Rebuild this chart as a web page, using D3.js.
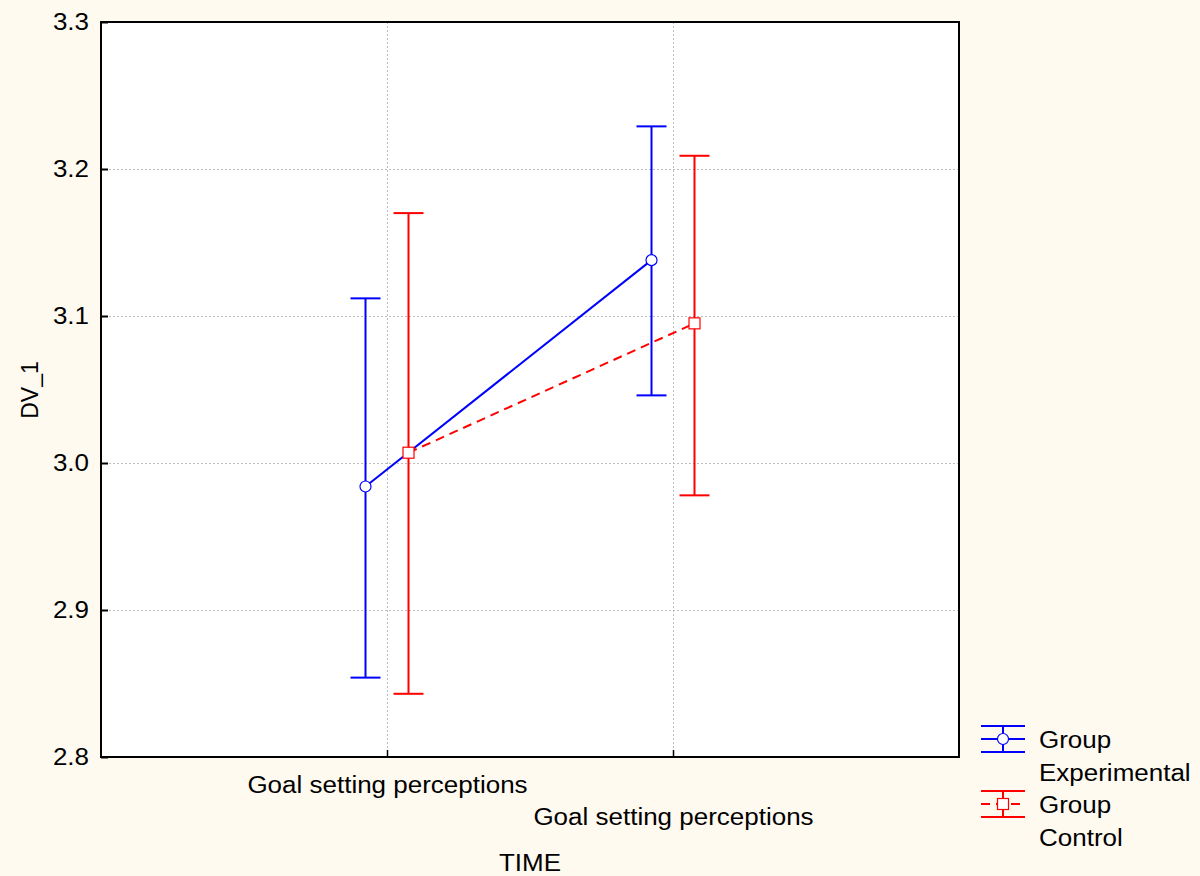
<!DOCTYPE html>
<html>
<head>
<meta charset="utf-8">
<script src="https://cdn.jsdelivr.net/npm/d3@7"></script>
<style>
  html, body { margin: 0; padding: 0; background: #FFFAF0; }
  svg { display: block; }
  text { font-family: "Liberation Sans", Arial, sans-serif; fill: #000; transform-box: fill-box; }
  text.a-start { transform: scaleX(1.13); transform-origin: left center; }
  text.a-middle { transform: scaleX(1.13); transform-origin: center center; }
  text.a-end { transform: scaleX(1.13); transform-origin: right center; }
</style>
</head>
<body>
<svg id="chart" width="1200" height="876"></svg>
<script>
// Time points on the x axis
const timeLabels = ["Goal setting perceptions", "Goal setting perceptions"];
const yTicks = [2.8, 2.9, 3.0, 3.1, 3.2, 3.3];

// Group means with the lower and upper ends of their error bars
const expMean = [2.984, 3.138];
const expLow  = [2.854, 3.046];
const expHigh = [3.112, 3.229];

const ctlMean = [3.007, 3.095];
const ctlLow  = [2.843, 2.978];
const ctlHigh = [3.170, 3.209];

const groups = [
  { name: "Group", sub: "Experimental", mean: expMean, low: expLow, high: expHigh,
    color: "#0000FF", dash: null, marker: "circle", offset: -21.5 },
  { name: "Group", sub: "Control", mean: ctlMean, low: ctlLow, high: ctlHigh,
    color: "#FF0000", dash: "9,6", marker: "square", offset: 21.5 }
];

const svg = d3.select("#chart");
const W = 1200, H = 876;
const plot = { left: 101, right: 959, top: 22, bottom: 757 };

svg.append("rect").attr("width", W).attr("height", H).attr("fill", "#FFFAF0");
svg.append("rect")
  .attr("x", plot.left).attr("y", plot.top)
  .attr("width", plot.right - plot.left).attr("height", plot.bottom - plot.top)
  .attr("fill", "#FFFFFF");

const x = d3.scalePoint()
  .domain(d3.range(timeLabels.length))
  .range([plot.left, plot.right])
  .padding(1);

const y = d3.scaleLinear().domain([2.8, 3.3]).range([plot.bottom, plot.top]);

// Dotted grid
const grid = svg.append("g").attr("stroke", "#BDBDBD").attr("stroke-width", 1)
  .attr("stroke-dasharray", "2,2");
grid.selectAll("line.h").data(yTicks.slice(1, -1)).join("line")
  .attr("x1", plot.left).attr("x2", plot.right)
  .attr("y1", d => Math.round(y(d)) + 0.5).attr("y2", d => Math.round(y(d)) + 0.5);
grid.selectAll("line.v").data(x.domain()).join("line")
  .attr("x1", d => Math.round(x(d)) + 0.5).attr("x2", d => Math.round(x(d)) + 0.5)
  .attr("y1", plot.top).attr("y2", plot.bottom);

// Axes with inward ticks
const fontSize = 23;
const yAxis = svg.append("g")
  .attr("transform", `translate(${plot.left},0)`)
  .call(d3.axisLeft(y).tickValues(yTicks).tickFormat(d3.format(".1f"))
    .tickSizeInner(-7).tickSizeOuter(0).tickPadding(12));
yAxis.select(".domain").remove();
yAxis.selectAll(".tick line").attr("stroke", "#000").attr("stroke-width", 2);
yAxis.selectAll(".tick text").attr("font-size", fontSize).attr("class", "a-end")
  .style("font-family", "'Liberation Sans', Arial, sans-serif").attr("fill", "#000");

const xAxis = svg.append("g")
  .attr("transform", `translate(0,${plot.bottom})`)
  .call(d3.axisBottom(x).tickFormat(i => timeLabels[i])
    .tickSizeInner(-7).tickSizeOuter(0));
xAxis.select(".domain").remove();
xAxis.selectAll(".tick line").attr("stroke", "#000").attr("stroke-width", 1.5);
xAxis.selectAll(".tick text")
  .attr("font-size", fontSize).attr("class", "a-middle")
  .style("font-family", "'Liberation Sans', Arial, sans-serif").attr("fill", "#000")
  .attr("dy", null)
  .attr("y", (d, i) => 36 + i * 32);

// Frame
svg.append("rect")
  .attr("x", plot.left).attr("y", plot.top)
  .attr("width", plot.right - plot.left).attr("height", plot.bottom - plot.top)
  .attr("fill", "none").attr("stroke", "#000").attr("stroke-width", 2);

// Axis titles
svg.append("text").attr("class", "a-middle")
  .attr("x", 530).attr("y", 871).attr("text-anchor", "middle")
  .attr("font-size", fontSize).text("TIME");
svg.append("g").attr("transform", "translate(38,390) rotate(-90)")
  .append("text")
  .attr("text-anchor", "middle").attr("font-size", fontSize).text("DV_1");

// Series
const capHalf = 15;
const line = d3.line();
groups.forEach(g => {
  const layer = svg.append("g");
  const px = i => x(i) + g.offset;

  layer.append("path")
    .attr("d", line(g.mean.map((m, i) => [px(i), y(m)])))
    .attr("fill", "none").attr("stroke", g.color).attr("stroke-width", 2)
    .attr("stroke-dasharray", g.dash);

  g.mean.forEach((m, i) => {
    const cx = px(i);
    layer.append("line")
      .attr("x1", cx).attr("x2", cx).attr("y1", y(g.high[i])).attr("y2", y(g.low[i]))
      .attr("stroke", g.color).attr("stroke-width", 2);
    [g.high[i], g.low[i]].forEach(v => {
      layer.append("line")
        .attr("x1", cx - capHalf).attr("x2", cx + capHalf)
        .attr("y1", y(v)).attr("y2", y(v))
        .attr("stroke", g.color).attr("stroke-width", 2);
    });
    if (g.marker === "circle") {
      layer.append("circle").attr("cx", cx).attr("cy", y(m)).attr("r", 5.5)
        .attr("fill", "#fff").attr("stroke", g.color).attr("stroke-width", 1.2);
    } else {
      layer.append("rect").attr("x", cx - 5.5).attr("y", y(m) - 5.5)
        .attr("width", 11).attr("height", 11)
        .attr("fill", "#fff").attr("stroke", g.color).attr("stroke-width", 1.2);
    }
  });
});

// Legend
const legend = svg.append("g");
groups.forEach((g, k) => {
  const top = 726 + k * 65;
  const x0 = 981, x1 = 1025, cx = 1003;
  const lg = legend.append("g");
  lg.append("line").attr("x1", x0).attr("x2", x1).attr("y1", top).attr("y2", top)
    .attr("stroke", g.color).attr("stroke-width", 2);
  lg.append("line").attr("x1", x0).attr("x2", x1).attr("y1", top + 26).attr("y2", top + 26)
    .attr("stroke", g.color).attr("stroke-width", 2);
  lg.append("line").attr("x1", cx).attr("x2", cx).attr("y1", top).attr("y2", top + 26)
    .attr("stroke", g.color).attr("stroke-width", 2);
  lg.append("line").attr("x1", x0).attr("x2", x1).attr("y1", top + 13).attr("y2", top + 13)
    .attr("stroke", g.color).attr("stroke-width", 2).attr("stroke-dasharray", g.dash);
  if (g.marker === "circle") {
    lg.append("circle").attr("cx", cx).attr("cy", top + 13).attr("r", 5.5)
      .attr("fill", "#fff").attr("stroke", g.color).attr("stroke-width", 1.2);
  } else {
    lg.append("rect").attr("x", cx - 5.5).attr("y", top + 7.5).attr("width", 11).attr("height", 11)
      .attr("fill", "#fff").attr("stroke", g.color).attr("stroke-width", 1.2);
  }
  lg.append("text").attr("class", "a-start").attr("x", 1039).attr("y", top + 22)
    .attr("font-size", fontSize).text(g.name);
  lg.append("text").attr("class", "a-start").attr("x", 1039).attr("y", top + 55)
    .attr("font-size", fontSize).text(g.sub);
});
</script>
</body>
</html>
